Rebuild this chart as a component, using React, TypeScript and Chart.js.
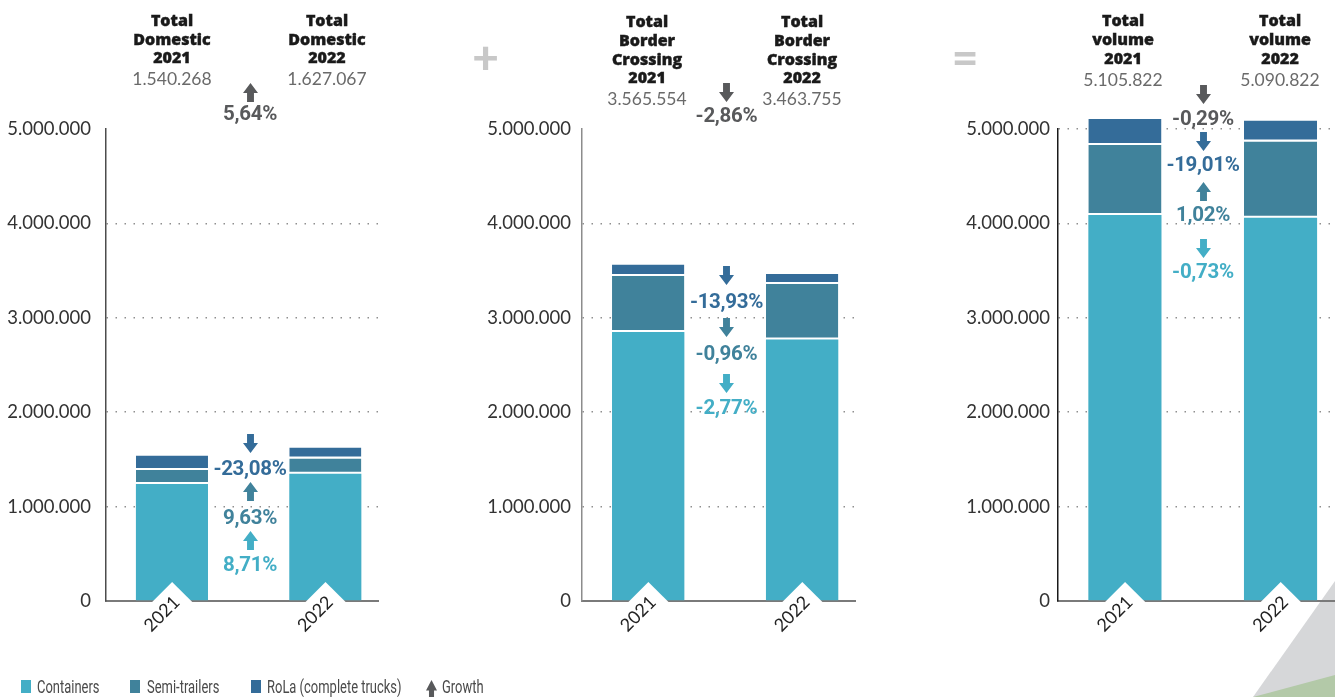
import React, { useEffect, useRef } from "react";
import { Chart, registerables } from "chart.js";

Chart.register(...registerables);

// ---------- data ----------
const years = ["2021", "2022"];
const yTicks = [0, 1000000, 2000000, 3000000, 4000000, 5000000];

const domesticContainers = [1240000, 1348000];
const domesticSemi = [147000, 161000];
const domesticRola = [153268, 118067];
const domesticTotals = ["1.540.268", "1.627.067"];
const domesticGrowth = { total: "5,64%", rola: "-23,08%", semi: "9,63%", containers: "8,71%" };

const borderContainers = [2850000, 2771000];
const borderSemi = [592300, 586600];
const borderRola = [123254, 106155];
const borderTotals = ["3.565.554", "3.463.755"];
const borderGrowth = { total: "-2,86%", rola: "-13,93%", semi: "-0,96%", containers: "-2,77%" };

const totalContainers = [4090000, 4060000];
const totalSemi = [739300, 806822];
const totalRola = [276522, 224000];
const volumeTotals = ["5.105.822", "5.090.822"];
const volumeGrowth = { total: "-0,29%", rola: "-19,01%", semi: "1,02%", containers: "-0,73%" };

const legendLabels = ["Containers", "Semi-trailers", "RoLa (complete trucks)", "Growth"];

// ---------- styles ----------
const C = {
  containers: "#43AEC6",
  semi: "#40829B",
  rola: "#346C99",
  growth: "#58595B",
};

function fmt(v: number) {
  return String(Math.round(v)).replace(/\B(?=(\d{3})+(?!\d))/g, ".");
}

const xLabelPlugin = {
  id: "xLabels",
  afterDraw(chart: any) {
    const { ctx } = chart;
    const xs = chart.scales.x;
    const bottom = chart.chartArea.bottom;
    ctx.save();
    ctx.font = "18px Lato";
    years.forEach((label, i) => {
      const cx = xs.getPixelForValue(i);
      const w = ctx.measureText(label).width;
      ctx.save();
      ctx.translate(cx - 10, bottom + 13);
      ctx.rotate(-Math.PI / 4);
      ctx.fillStyle = "#ffffff";
      ctx.fillRect(-w / 2 - 9, -15.5, w + 18, 31);
      ctx.fillStyle = "#222222";
      ctx.textAlign = "center";
      ctx.textBaseline = "middle";
      ctx.fillText(label, 0, 0);
      ctx.restore();
    });
    ctx.restore();
  },
};

type ChartProps = {
  left: number;
  width: number;
  containers: number[];
  semi: number[];
  rola: number[];
  tickPad: number;
  axisColor: string;
  topGrid: boolean;
};

function StackChart(p: ChartProps) {
  const ref = useRef<HTMLCanvasElement>(null);
  useEffect(() => {
    const mk = (vals: number[]) => vals.map((v, i) => ({ x: i, y: v }));
    const sep = { top: 0, left: 0, right: 0, bottom: 2 };
    const chart = new Chart(ref.current as HTMLCanvasElement, {
      type: "bar",
      data: {
        datasets: [
          { label: legendLabels[0], data: mk(p.containers), backgroundColor: C.containers, borderWidth: 0, clip: false },
          { label: legendLabels[1], data: mk(p.semi), backgroundColor: C.semi, borderColor: "#ffffff", borderWidth: sep, borderSkipped: false, clip: false },
          { label: legendLabels[2], data: mk(p.rola), backgroundColor: C.rola, borderColor: "#ffffff", borderWidth: sep, borderSkipped: false, clip: false },
        ] as any,
      },
      options: {
        responsive: false,
        maintainAspectRatio: false,
        animation: false,
        barPercentage: 0.47,
        categoryPercentage: 1,
        layout: { padding: { top: 129, bottom: 96, left: 0, right: 0 } },
        plugins: { legend: { display: false }, tooltip: { enabled: false }, title: { display: false } },
        scales: {
          x: {
            type: "linear",
            min: -0.43,
            max: 1.35,
            offset: false,
            stacked: true,
            afterBuildTicks: (s: any) => {
              s.ticks = years.map((_, i) => ({ value: i }));
            },
            ticks: { display: false },
            grid: { display: false, offset: false },
            border: { display: true, color: "#7a7a7a", width: 2 },
            afterFit: (s: any) => {
              s.height = 0;
            },
          },
          y: {
            stacked: true,
            min: 0,
            max: 5000000,
            afterBuildTicks: (s: any) => {
              s.ticks = yTicks.map((v) => ({ value: v }));
            },
            ticks: {
              padding: p.tickPad,
              color: "#333333",
              font: { family: "Lato", size: 18.5 },
              callback: (v: any) => fmt(Number(v)),
            },
            grid: {
              drawTicks: false,
              lineWidth: 1.5,
              color: (c: any) => {
                const v = c.tick ? c.tick.value : 0;
                if (v === 0) return "rgba(0,0,0,0)";
                if (v === 5000000 && !p.topGrid) return "rgba(0,0,0,0)";
                return "#8f8f8f";
              },
            },
            border: { display: true, color: p.axisColor, width: 1.5, dash: [1.5, 7.5] },
            afterFit: (s: any) => {
              s.width = 106;
            },
          },
        },
      } as any,
      plugins: [xLabelPlugin],
    });
    return () => chart.destroy();
  }, []);
  return (
    <canvas
      ref={ref}
      width={p.width}
      height={697}
      style={{ position: "absolute", left: p.left, top: 0, width: p.width, height: 697, display: "block" }}
    />
  );
}

function Arrow({ x, top, dir, color, w = 15, h = 19 }: { x: number; top: number; dir: "up" | "down"; color: string; w?: number; h?: number }) {
  const hh = h * 0.52;
  const sw = w * 0.46;
  const a = w / 2;
  let pts: number[][] = [
    [a, 0],
    [w, hh],
    [a + sw / 2, hh],
    [a + sw / 2, h],
    [a - sw / 2, h],
    [a - sw / 2, hh],
    [0, hh],
  ];
  if (dir === "down") pts = pts.map(([px, py]) => [px, h - py]);
  return (
    <svg
      width={w}
      height={h}
      style={{ position: "absolute", left: x - w / 2, top, overflow: "visible" }}
    >
      <polygon points={pts.map((q) => q.join(",")).join(" ")} fill={color} />
    </svg>
  );
}

function Pct({ x, capTop, text, color }: { x: number; capTop: number; text: string; color: string }) {
  return (
    <div
      style={{
        position: "absolute",
        left: x,
        top: capTop - 2.7,
        transform: "translateX(-50%)",
        fontFamily: "Roboto, sans-serif",
        fontWeight: 700,
        fontSize: 20.5,
        lineHeight: "20.5px",
        color,
        whiteSpace: "nowrap",
        letterSpacing: -0.3,
      }}
    >
      {text}
    </div>
  );
}

function Header({ x, top, lines, value, valueTop }: { x: number; top: number; lines: string[]; value: string; valueTop: number }) {
  return (
    <>
      <div
        style={{
          position: "absolute",
          left: x,
          top,
          transform: "translateX(-50%)",
          textAlign: "center",
          fontFamily: "'Open Sans', sans-serif",
          fontWeight: 800,
          fontSize: 16,
          lineHeight: "18.7px",
          color: "#1a1a1a",
          whiteSpace: "nowrap",
          WebkitTextStroke: "0.4px #1a1a1a",
        }}
      >
        {lines.map((l, i) => (
          <div key={i}>{l}</div>
        ))}
      </div>
      <div
        style={{
          position: "absolute",
          left: x,
          top: valueTop,
          transform: "translateX(-50%)",
          fontFamily: "Lato, sans-serif",
          fontWeight: 400,
          fontSize: 17.5,
          lineHeight: "17.5px",
          color: "#6a6a6a",
          whiteSpace: "nowrap",
        }}
      >
        {value}
      </div>
    </>
  );
}

function LegendItem({ sq, tx, label, color, arrow }: { sq: number; tx: number; label: string; color: string; arrow?: boolean }) {
  return (
    <>
      {arrow ? (
        <Arrow x={sq + 5} top={680} dir="up" color={color} w={11} h={20} />
      ) : (
        <div style={{ position: "absolute", left: sq, top: 680, width: 10, height: 13, background: color }} />
      )}
      <div
        style={{
          position: "absolute",
          left: tx,
          top: 677.5,
          fontFamily: "Roboto, sans-serif",
          fontSize: 18,
          lineHeight: "18px",
          color: "#4a4a4a",
          whiteSpace: "nowrap",
          transform: "scaleX(0.72)",
          transformOrigin: "left top",
        }}
      >
        {label}
      </div>
    </>
  );
}

export default function App() {
  return (
    <div
      style={{
        position: "absolute",
        left: 0,
        top: 0,
        width: 1335,
        height: 697,
        overflow: "hidden",
        background: "#ffffff",
      }}
    >
      {/* decorative corner */}
      <svg width={1335} height={697} style={{ position: "absolute", left: 0, top: 0 }}>
        <polygon points="1335,581 1253,697 1335,697" fill="#d6d7d9" />
        <polygon points="1253,697 1335,675 1335,697" fill="#b3c9a8" />
      </svg>

      <StackChart left={0} width={379} containers={domesticContainers} semi={domesticSemi} rola={domesticRola} tickPad={15} axisColor="#4d4d4d" topGrid={false} />
      <StackChart left={476} width={380} containers={borderContainers} semi={borderSemi} rola={borderRola} tickPad={11} axisColor="#8c8c8c" topGrid={false} />
      <StackChart left={952} width={383} containers={totalContainers} semi={totalSemi} rola={totalRola} tickPad={8} axisColor="#1a1a1a" topGrid={true} />

      {/* headers */}
      <Header x={172} top={11} lines={["Total", "Domestic", years[0]]} value={domesticTotals[0]} valueTop={69.5} />
      <Header x={327} top={11} lines={["Total", "Domestic", years[1]]} value={domesticTotals[1]} valueTop={69.5} />
      <Header x={647} top={12.3} lines={["Total", "Border", "Crossing", years[0]]} value={borderTotals[0]} valueTop={89.5} />
      <Header x={802} top={12.3} lines={["Total", "Border", "Crossing", years[1]]} value={borderTotals[1]} valueTop={89.5} />
      <Header x={1123} top={11.3} lines={["Total", "volume", years[0]]} value={volumeTotals[0]} valueTop={71} />
      <Header x={1280} top={11.3} lines={["Total", "volume", years[1]]} value={volumeTotals[1]} valueTop={71} />

      {/* operators */}
      <div style={{ position: "absolute", left: 485.5, top: 34.4, transform: "translateX(-50%)", fontFamily: "Lato, sans-serif", fontWeight: 900, fontSize: 46, lineHeight: "46px", color: "#c8c8c8" }}>+</div>
      <div style={{ position: "absolute", left: 965, top: 34.4, transform: "translateX(-50%)", fontFamily: "Lato, sans-serif", fontWeight: 900, fontSize: 46, lineHeight: "46px", color: "#c8c8c8" }}>=</div>

      {/* domestic growth */}
      <Arrow x={250} top={83} dir="up" color={C.growth} />
      <Pct x={250} capTop={106} text={domesticGrowth.total} color={C.growth} />
      <Arrow x={250} top={434} dir="down" color={C.rola} />
      <Pct x={250} capTop={460.5} text={domesticGrowth.rola} color={C.rola} />
      <Arrow x={250} top={482} dir="up" color={C.semi} />
      <Pct x={250} capTop={510} text={domesticGrowth.semi} color={C.semi} />
      <Arrow x={250} top={531} dir="up" color={C.containers} />
      <Pct x={250} capTop={557} text={domesticGrowth.containers} color={C.containers} />

      {/* border growth */}
      <Arrow x={726.5} top={83} dir="down" color={C.growth} />
      <Pct x={726.5} capTop={107.5} text={borderGrowth.total} color={C.growth} />
      <Arrow x={726.5} top={266} dir="down" color={C.rola} />
      <Pct x={726.5} capTop={294} text={borderGrowth.rola} color={C.rola} />
      <Arrow x={726.5} top={318} dir="down" color={C.semi} />
      <Pct x={726.5} capTop={345.5} text={borderGrowth.semi} color={C.semi} />
      <Arrow x={726.5} top={374} dir="down" color={C.containers} />
      <Pct x={726.5} capTop={400} text={borderGrowth.containers} color={C.containers} />

      {/* volume growth */}
      <Arrow x={1203} top={85} dir="down" color={C.growth} />
      <Pct x={1203} capTop={110.5} text={volumeGrowth.total} color={C.growth} />
      <Arrow x={1203} top={132} dir="down" color={C.rola} />
      <Pct x={1203} capTop={157} text={volumeGrowth.rola} color={C.rola} />
      <Arrow x={1203} top={182} dir="up" color={C.semi} />
      <Pct x={1203} capTop={207} text={volumeGrowth.semi} color={C.semi} />
      <Arrow x={1203} top={239} dir="down" color={C.containers} />
      <Pct x={1203} capTop={263.5} text={volumeGrowth.containers} color={C.containers} />

      {/* legend */}
      <LegendItem sq={21} tx={37} label={legendLabels[0]} color={C.containers} />
      <LegendItem sq={130} tx={147} label={legendLabels[1]} color={C.semi} />
      <LegendItem sq={251} tx={267} label={legendLabels[2]} color={C.rola} />
      <LegendItem sq={426} tx={442} label={legendLabels[3]} color={C.growth} arrow />
    </div>
  );
}
